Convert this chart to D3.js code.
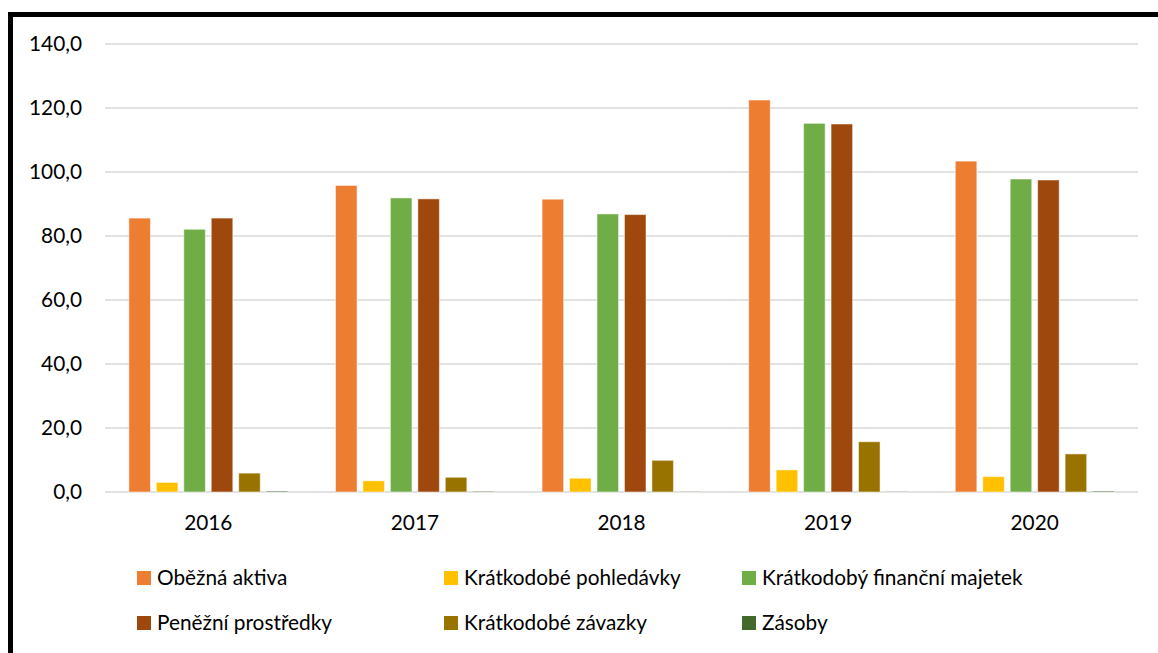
<!DOCTYPE html>
<html><head><meta charset="utf-8">
<script src="https://cdn.jsdelivr.net/npm/d3@7"></script>
<style>
html,body{margin:0;padding:0;background:#fff;}
svg{display:block;font-family:Lato,"Open Sans",sans-serif;}
</style></head>
<body>
<svg id="chart" width="1158" height="653"></svg>
<script>
const years = ["2016","2017","2018","2019","2020"];
const seriesNames = ["Oběžná aktiva","Krátkodobé pohledávky","Krátkodobý finanční majetek","Peněžní prostředky","Krátkodobé závazky","Zásoby"];
const obeznaAktiva = [85.6, 95.8, 91.5, 122.5, 103.4];
const kratkodobePohledavky = [3.0, 3.5, 4.3, 6.9, 4.8];
const kratkodobyFinancniMajetek = [82.1, 91.9, 86.9, 115.2, 97.8];
const penezniProstredky = [85.6, 91.6, 86.7, 115.0, 97.5];
const kratkodobeZavazky = [5.9, 4.6, 9.9, 15.7, 11.9];
const zasoby = [0.3, 0.2, 0.1, 0.1, 0.3];
const yTicks = [0,20,40,60,80,100,120,140];
const colors = ["#ED7D31","#FFC000","#70AD47","#9E480E","#997300","#43682B"];

const seriesValues = [obeznaAktiva,kratkodobePohledavky,kratkodobyFinancniMajetek,penezniProstredky,kratkodobeZavazky,zasoby];
const svg = d3.select("#chart");

// border (left and top)
svg.append("line").attr("x1",10.5).attr("x2",10.5).attr("y1",12).attr("y2",653).attr("stroke","#000").attr("stroke-width",5);
svg.append("line").attr("x1",8).attr("x2",1158).attr("y1",14.5).attr("y2",14.5).attr("stroke","#000").attr("stroke-width",5);

const pLeft=105, pRight=1138, pTop=44, pBottom=492;
const y = d3.scaleLinear().domain([0,140]).range([pBottom, pTop]);
const x0 = d3.scaleBand().domain(years).range([pLeft,pRight]).padding(0);
const x1 = d3.scaleBand().domain(d3.range(seriesNames.length)).range([0,x0.bandwidth()]).paddingInner(0.215).paddingOuter(0.87);

// gridlines
svg.append("g").selectAll("line").data(yTicks).join("line")
  .attr("x1",pLeft).attr("x2",pRight)
  .attr("y1",d=>y(d)).attr("y2",d=>y(d))
  .attr("stroke","#d9d9d9").attr("stroke-width",1.5);

const fs = 20.8;
// y tick labels
const fmt = d => d.toFixed(1).replace(".",",");
svg.append("g").selectAll("text").data(yTicks).join("text")
  .attr("x",82).attr("y",d=>y(d)).attr("dy","0.35em")
  .attr("text-anchor","end").attr("font-size",fs).attr("fill","#000")
  .text(fmt);

// bars
const g = svg.append("g");
years.forEach((yr,i)=>{
  seriesValues.forEach((vals,s)=>{
    g.append("rect")
      .attr("x",x0(yr)+x1(s))
      .attr("y",y(vals[i]))
      .attr("width",x1.bandwidth())
      .attr("height",pBottom-y(vals[i]))
      .attr("fill",colors[s])
      .attr("stroke","#ffffff").attr("stroke-opacity",0.5).attr("stroke-width",1);
  });
});

// x labels
svg.append("g").selectAll("text").data(years).join("text")
  .attr("x",d=>x0(d)+x0.bandwidth()/2).attr("y",523).attr("dy","0.35em")
  .attr("text-anchor","middle").attr("font-size",fs).attr("fill","#000")
  .text(d=>d);

// legend
const legX = [137, 444, 742];
const legY = [578, 623];
const leg = svg.append("g");
seriesNames.forEach((n,i)=>{
  const cx = legX[i%3], cy = legY[Math.floor(i/3)];
  leg.append("rect").attr("x",cx).attr("y",cy-7).attr("width",14).attr("height",14).attr("fill",colors[i]);
  leg.append("text").attr("x",cx+20).attr("y",cy).attr("dy","0.35em")
    .attr("font-size",fs).attr("fill","#000").text(n);
});
</script>
</body></html>
